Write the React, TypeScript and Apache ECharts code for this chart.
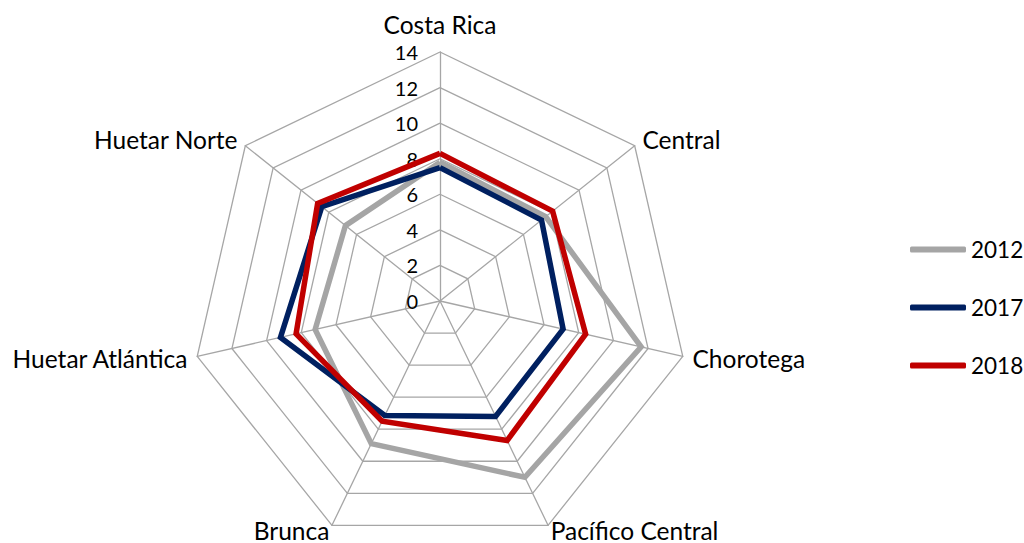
import React, { useEffect, useRef } from "react";
import * as echarts from "echarts";

const categories = [
  "Costa Rica",
  "Central",
  "Chorotega",
  "Pacífico Central",
  "Brunca",
  "Huetar Atlántica",
  "Huetar Norte",
];
const seriesNames = ["2012", "2017", "2018"];
const values2012 = [7.8, 7.6, 11.6, 11.0, 8.9, 7.2, 6.8];
const values2017 = [7.5, 7.3, 7.1, 7.2, 7.15, 9.2, 8.5];
const values2018 = [8.3, 8.1, 8.4, 8.7, 7.5, 8.3, 8.8];
const axisMax = 14;
const seriesColors = ["#A5A5A5", "#002060", "#C00000"];

const FONT = "Lato, 'Noto Sans', sans-serif";

// ECharts radar runs counter-clockwise; reorder so categories read clockwise
const order = [0, ...categories.slice(1).map((_, i) => categories.length - 1 - i)];
const bottomNames = ["Pacífico Central", "Brunca"];

export default function App() {
  const ref = useRef<HTMLDivElement>(null);
  useEffect(() => {
    document.body.style.margin = "0";
    if (!ref.current) return;
    const chart = echarts.init(ref.current, undefined, { renderer: "svg" });
    const allValues = [values2012, values2017, values2018];
    chart.setOption({
      animation: false,
      backgroundColor: "#ffffff",
      textStyle: { fontFamily: FONT },
      legend: {
        orient: "vertical",
        left: 910,
        top: 238,
        padding: 0,
        itemWidth: 56,
        itemHeight: 6,
        itemGap: 35,
        itemTextGap: 3,
        icon: "roundRect",
        textStyle: { fontSize: 22.5, color: "#000", fontFamily: FONT },
        data: seriesNames,
      },
      radar: {
        center: [440, 301],
        radius: 249,
        startAngle: 90,
        splitNumber: 7,
        shape: "polygon",
        nameGap: 10,
        axisName: { color: "#000", fontSize: 24.5, fontFamily: FONT },
        axisLine: { lineStyle: { color: "#A6A6A6", width: 1.3 } },
        splitLine: { lineStyle: { color: "#A6A6A6", width: 1.3 } },
        splitArea: { show: false },
        axisTick: { show: false },
        axisLabel: { show: false, fontSize: 20, margin: 22, color: "#000", fontFamily: FONT },
        indicator: order.map((k, i) => {
          const name = categories[k];
          if (i === 0) {
            return { name, min: 0, max: axisMax, nameGap: 15, axisLabel: { show: true } };
          }
          if (bottomNames.includes(name)) {
            return { name, min: 0, max: axisMax, nameGap: 6 };
          }
          return { name, min: 0, max: axisMax };
        }),
      },
      series: [
        {
          type: "radar",
          symbol: "none",
          data: seriesNames.map((n, i) => ({
            name: n,
            value: order.map((k) => allValues[i][k]),
            lineStyle: { color: seriesColors[i], width: 5.5, join: "miter" },
            itemStyle: { color: seriesColors[i] },
          })),
        },
      ],
    });
    return () => chart.dispose();
  }, []);
  return <div ref={ref} style={{ width: 1024, height: 543 }} />;
}
